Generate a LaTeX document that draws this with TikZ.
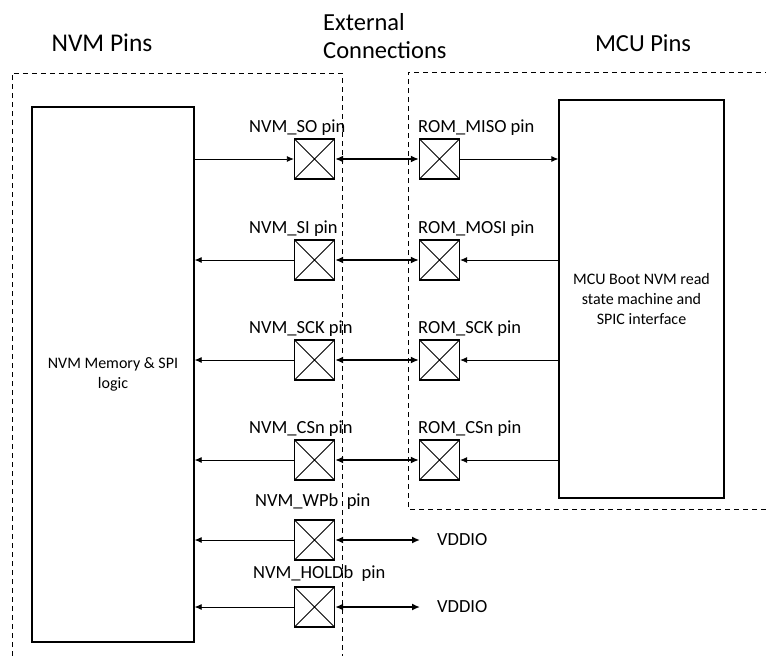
\documentclass[tikz,border=0pt]{standalone}
\usepackage{fontspec}
\setmainfont{Carlito}
\usetikzlibrary{positioning,arrows.meta}
\newcommand{\wirearrowstyle}{-{Latex[length=7pt,width=6pt]}}
\newcommand{\busarrowstyle}{{Latex[length=8pt,width=7pt]}-{Latex[length=8pt,width=7pt]}}

\begin{document}
\begin{tikzpicture}[
    x=1pt, y=-1pt,
    font=\fontsize{18.5}{22}\selectfont,
    wire/.style={\wirearrowstyle, line width=0.8pt},
    bus/.style={\busarrowstyle, line width=2.4pt},
    zone/.style={dash pattern=on 5pt off 4pt, line width=0.9pt},
    blk/.style={draw, line width=1.3pt, inner sep=0pt, align=center, font=\fontsize{16}{20}\selectfont},
    pinbox/.style={draw, line width=1.3pt, minimum size=40pt, inner sep=0pt,
      path picture={\draw[line width=0.8pt]
        (path picture bounding box.south west) -- (path picture bounding box.north east)
        (path picture bounding box.north west) -- (path picture bounding box.south east);}},
    pinlbl/.style={anchor=base west, inner sep=0pt},
    heading/.style={align=left, inner sep=0pt, font=\fontsize{24.5}{27.5}\selectfont}
]
  \useasboundingbox (0,0) rectangle (766,656);
  \def\nvmx{314.5}
  \def\romx{439.5}

  % zones
  \draw[zone] (12,656) -- (12,73) -- (342,73) -- (342,656);
  \draw[zone] (766,509) -- (408,509) -- (408,72) -- (766,72);

  \node[heading, font=\fontsize{25.5}{27.5}\selectfont] (nvmhead) at (102,43) {NVM Pins};
  \node[heading, anchor=west] (exthead) at (323,36) {External\\Connections};
  \node[heading] (mcuhead) at (643,43) {MCU Pins};

  % blocks
  \node[blk, minimum width=162pt, minimum height=535pt] (nvmblk) at (113,374.5) {NVM Memory \& SPI\\logic};
  \node[blk, minimum width=165pt, minimum height=398pt] (mcublk) at (641.5,299) {MCU Boot NVM read\\state machine and\\SPIC interface};

  % spi pins
  \foreach \nm/\nvmlbl/\romlbl/\y in {so/SO/MISO/159, si/SI/MOSI/260, sck/SCK/SCK/360, csn/CSn/CSn/460} {
    \node[pinbox] (nvm\nm) at (\nvmx,\y) {};
    \node[pinbox] (rom\nm) at (\romx,\y) {};
    \node[pinlbl] (nvm\nm lbl) at (249,\y-27) {NVM\_\nvmlbl\ pin};
    \node[pinlbl] (rom\nm lbl) at (418,\y-27) {ROM\_\romlbl\ pin};
    \draw[bus] (nvm\nm.east) -- (rom\nm.west);
  }
  \draw[wire] (nvmso -| nvmblk.east) -- (nvmso.west);
  \draw[wire] (romso.east) -- (romso -| mcublk.west);
  \foreach \nm in {si,sck,csn} {
    \draw[wire] (nvm\nm.west) -- (nvm\nm -| nvmblk.east);
    \draw[wire] (rom\nm -| mcublk.west) -- (rom\nm.east);
  }

  % tied pins
  \node[pinbox] (nvmwpb) at (\nvmx,540) {};
  \node[pinlbl] (nvmwpblbl) at (255,506) {NVM\_WPb\ \ pin};
  \node[pinbox] (nvmholdb) at (\nvmx,607) {};
  \node[pinlbl] (nvmholdblbl) at (253,578) {NVM\_HOLDb\ \ pin};
  \foreach \nm in {wpb,holdb} {
    \coordinate (\nm end) at (420,0 |- nvm\nm);
    \node[right=17pt of \nm end, inner sep=0pt] (\nm vdd) {VDDIO};
    \draw[bus] (nvm\nm.east) -- (\nm end);
    \draw[wire] (nvm\nm.west) -- (nvm\nm -| nvmblk.east);
  }
\end{tikzpicture}
\end{document}
